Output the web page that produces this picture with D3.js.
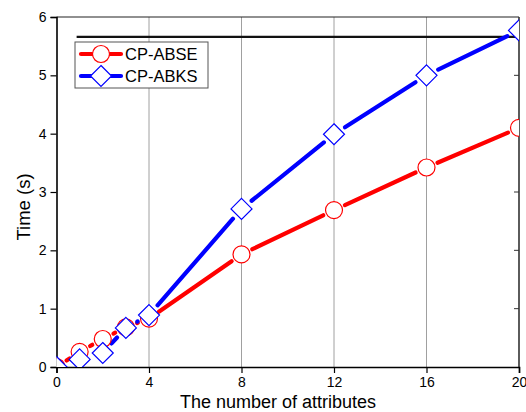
<!DOCTYPE html>
<html><head><meta charset="utf-8">
<script src="https://cdn.jsdelivr.net/npm/d3@7"></script>
<style>body{margin:0;background:#fff}svg{display:block}text{font-family:"Liberation Sans",Arial,sans-serif}</style>
</head><body>
<svg id="c" width="526" height="412"></svg>
<script>
const attrs = [0, 1, 2, 3, 4, 8, 12, 16, 20];
const cpABSE = [0, 0.26, 0.48, 0.68, 0.83, 1.93, 2.69, 3.42, 4.10];
const cpABKS = [0, 0.13, 0.24, 0.67, 0.89, 2.71, 3.99, 5.00, 5.77];
const seriesNames = ["CP-ABSE", "CP-ABKS"];
const xTicks = [0, 4, 8, 12, 16, 20];
const yTicks = [0, 1, 2, 3, 4, 5, 6];
const gridX = [4, 8, 12, 16];
const refLineY = 5.66;
const refLineX = [0.87, 20];

const svg = d3.select("#c");
const L = 56.5, R = 519, T = 17, B = 367;
const x = d3.scaleLinear().domain([0, 20]).range([L, R]);
const y = d3.scaleLinear().domain([0, 6]).range([B, T]);

svg.append("defs").append("clipPath").attr("id", "clip")
  .append("rect").attr("x", L).attr("y", T).attr("width", R - L).attr("height", B - T);

// grid
svg.append("g").selectAll("line").data(gridX).join("line")
  .attr("x1", d => x(d)).attr("x2", d => x(d)).attr("y1", T).attr("y2", B)
  .attr("stroke", "#a0a0a0").attr("stroke-width", 1);

// frame top & right
svg.append("line").attr("x1", L).attr("x2", R).attr("y1", T).attr("y2", T).attr("stroke", "#222").attr("stroke-width", 1.2);
svg.append("line").attr("x1", R).attr("x2", R).attr("y1", T).attr("y2", B).attr("stroke", "#333").attr("stroke-width", 1.6);
svg.append("g").selectAll("line").data(yTicks.slice(1, -1)).join("line")
  .attr("x1", R - 5).attr("x2", R).attr("y1", d => y(d)).attr("y2", d => y(d))
  .attr("stroke", "#333").attr("stroke-width", 1);

// axes
const ax = svg.append("g").attr("transform", `translate(0,${B})`)
  .call(d3.axisBottom(x).tickValues(xTicks).tickSize(6).tickPadding(4).tickFormat(d3.format("d")));
const ay = svg.append("g").attr("transform", `translate(${L},0)`)
  .call(d3.axisLeft(y).tickValues(yTicks).tickSize(6).tickPadding(4).tickFormat(d3.format("d")));
[ax, ay].forEach(g => {
  g.select(".domain").attr("stroke", "#000").attr("stroke-width", 1.6);
  g.selectAll(".tick line").attr("stroke", "#000").attr("stroke-width", 1.2);
  g.selectAll("text").attr("font-size", 14).attr("fill", "#000").style("font-family", '"Liberation Sans",Arial,sans-serif');
});

// titles
svg.append("text").attr("x", 278).attr("y", 408).attr("text-anchor", "middle")
  .attr("font-size", 18).text("The number of attributes");
svg.append("text").attr("transform", "translate(30,207) rotate(-90)").attr("text-anchor", "middle")
  .attr("font-size", 18.5).text("Time (s)");

// reference line
svg.append("line").attr("x1", x(refLineX[0])).attr("x2", x(refLineX[1]))
  .attr("y1", y(refLineY)).attr("y2", y(refLineY)).attr("stroke", "#111").attr("stroke-width", 2.2);

const plot = svg.append("g").attr("clip-path", "url(#clip)");
const cfg = [
  {vals: cpABSE, color: "#ff0000", shape: "circle", gap: 12},
  {vals: cpABKS, color: "#0000ff", shape: "diamond", gap: 13}
];

function drawMarker(g, shape, color, cx, cy) {
  if (shape === "circle") {
    g.append("circle").attr("cx", cx).attr("cy", cy).attr("r", 8.5)
      .attr("fill", "#fff").attr("stroke", color).attr("stroke-width", 1.2);
  } else {
    const r = 10.5;
    g.append("path").attr("d", `M${cx},${cy - r}L${cx + r},${cy}L${cx},${cy + r}L${cx - r},${cy}Z`)
      .attr("fill", "#fff").attr("stroke", color).attr("stroke-width", 1.2);
  }
}

cfg.forEach(c => {
  const pts = attrs.map((a, i) => [x(a), y(c.vals[i])]);
  const segs = [];
  for (let i = 0; i < pts.length - 1; i++) {
    const [x1, y1] = pts[i], [x2, y2] = pts[i + 1];
    const len = Math.hypot(x2 - x1, y2 - y1);
    if (len <= 2 * c.gap) continue;
    const ux = (x2 - x1) / len, uy = (y2 - y1) / len;
    segs.push([x1 + ux * c.gap, y1 + uy * c.gap, x2 - ux * c.gap, y2 - uy * c.gap]);
  }
  plot.append("g").selectAll("line").data(segs).join("line")
    .attr("x1", d => d[0]).attr("y1", d => d[1]).attr("x2", d => d[2]).attr("y2", d => d[3])
    .attr("stroke", c.color).attr("stroke-width", 4.2).attr("stroke-linecap", "round");
});
cfg.forEach(c => {
  const g = plot.append("g");
  attrs.forEach((a, i) => drawMarker(g, c.shape, c.color, x(a), y(c.vals[i])));
});

// legend
const lg = svg.append("g");
lg.append("rect").attr("x", 75).attr("y", 42).attr("width", 133).attr("height", 46)
  .attr("fill", "#fff").attr("stroke", "#555").attr("stroke-width", 1);
cfg.forEach((c, i) => {
  const cy = 54 + i * 22;
  lg.append("line").attr("x1", 81).attr("x2", 121).attr("y1", cy).attr("y2", cy)
    .attr("stroke", c.color).attr("stroke-width", 4.2).attr("stroke-linecap", "round");
  drawMarker(lg, c.shape, c.color, 101, cy);
  lg.append("text").attr("x", 125).attr("y", cy + 6).attr("font-size", 16.5).text(seriesNames[i]);
});
</script>
</body></html>
